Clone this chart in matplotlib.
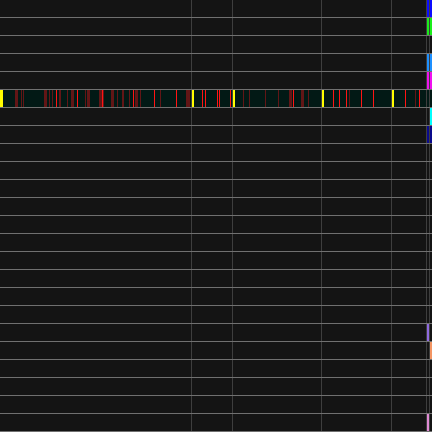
import matplotlib
matplotlib.use("Agg")
import matplotlib.pyplot as plt

# timeline of 24 tracks, x in time units (0..432)
N_ROWS = 24
X_MAX = 432
GRID_X = [190, 231, 320, 390, 425, 428]

# highlighted track
HL_ROW = 5
# yellow markers (start, width)
MARKERS = [(0, 3), (191, 3), (232, 3), (321, 3), (391, 3)]
# faint red events (start, width)
FAINT = [(15, 3), (21, 1), (23, 1), (44, 3), (49, 1), (52, 1), (59, 2),
         (67, 1), (71, 3), (85, 1), (87, 3), (99, 5), (111, 3), (117, 1),
         (122, 2), (129, 1), (135, 3), (140, 1), (160, 1), (186, 4),
         (243, 1), (249, 1), (265, 1), (278, 1), (289, 3), (301, 3),
         (308, 1), (349, 1), (415, 1)]
# bright red events
BRIGHT = [(56, 1), (77, 1), (102, 1), (133, 1), (154, 1), (176, 1),
          (202, 1), (205, 1), (217, 1), (219, 1), (230, 1), (293, 1),
          (333, 1), (339, 1), (346, 1), (361, 1), (373, 1), (405, 1),
          (419, 1)]

# short bars at the end of the timeline: (row, start, width, colour)
TAIL = [
    (0, 426, 6, "#0c0cff"),
    (1, 426, 6, "#1aee1a"),
    (3, 426, 6, "#1e90ff"),
    (4, 426, 6, "#f010f0"),
    (6, 429, 3, "#00ffff"),
    (7, 426, 6, "#0a0a8c"),
    (18, 426, 3, "#8f6ae0"),
    (19, 429, 3, "#f39563"),
    (23, 426, 3, "#e08ad4"),
]

fig = plt.figure(figsize=(6, 6), dpi=72, facecolor="#141414")
ax = fig.add_axes([0, 0, 1, 1])
ax.set_facecolor("#141414")
off = 1.0 / 18
ax.set_xlim(0, X_MAX)
ax.set_ylim(N_ROWS + off, off)
ax.axis("off")

kw = dict(antialiased=False, linewidth=0)
ax.broken_barh([(0, X_MAX)], (HL_ROW, 1), facecolors="#021915", zorder=1, **kw)
ax.broken_barh(FAINT, (HL_ROW, 1), facecolors="#621616", zorder=2, **kw)
ax.broken_barh(BRIGHT, (HL_ROW, 1), facecolors="#ff1414", zorder=3, **kw)
ax.broken_barh(MARKERS, (HL_ROW, 1), facecolors="#ffff00", zorder=4, **kw)

for row, start, width, color in TAIL:
    ax.broken_barh([(start, width)], (row, 1), facecolors=color, zorder=2, **kw)

for gx in GRID_X:
    ax.axvline(gx + 0.5, color="#3e3e3e", lw=1, zorder=5, antialiased=False)
for gy in range(1, N_ROWS + 1):
    ax.axhline(gy, color="#707070", lw=1, zorder=6, antialiased=False)

fig.savefig("out.png", dpi=72, facecolor=fig.get_facecolor())
